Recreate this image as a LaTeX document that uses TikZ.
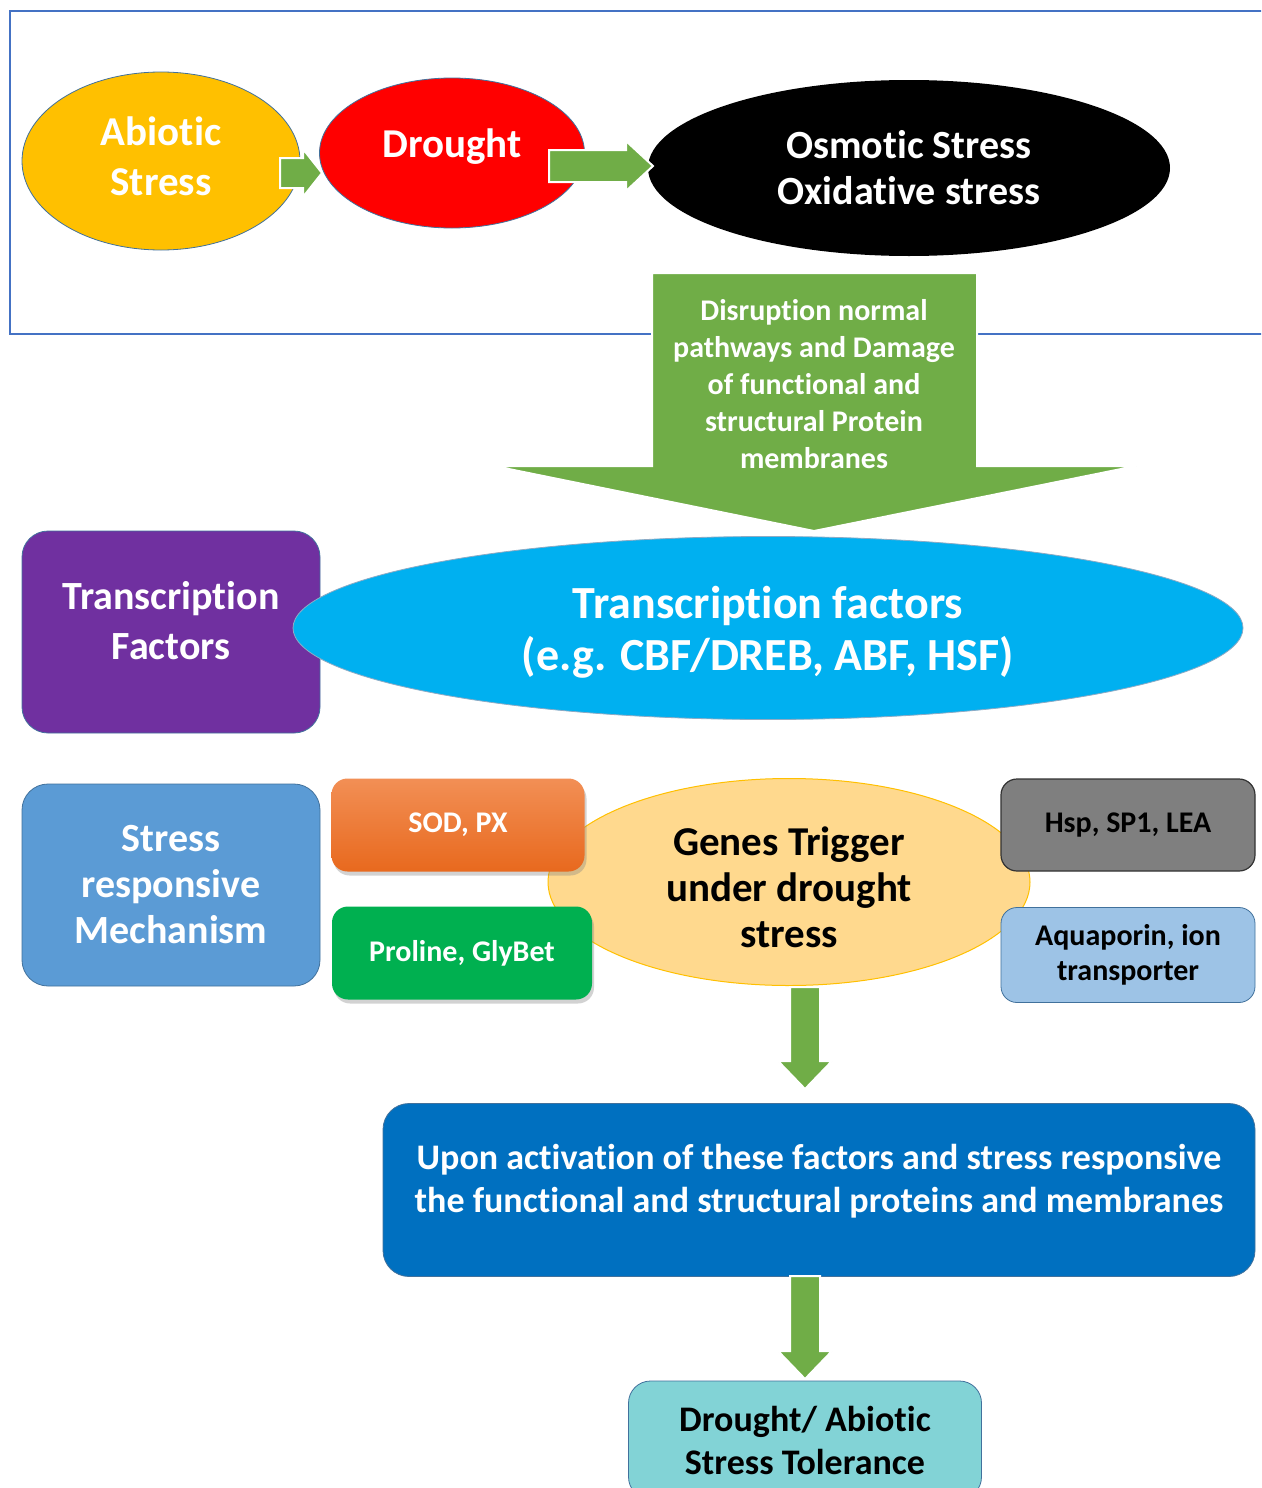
\documentclass[tikz,border=0pt]{standalone}
\usepackage{fontspec}
\setmainfont{Carlito}[Ligatures=NoCommon]
\usetikzlibrary{shapes.geometric,shadows,calc}
\definecolor{framecol}{HTML}{4472C4}
\definecolor{gold}{HTML}{FFC000}
\definecolor{arrgreen}{HTML}{70AD47}
\definecolor{purp}{HTML}{7030A0}
\definecolor{cyanb}{HTML}{00B0F0}
\definecolor{stressb}{HTML}{5B9BD5}
\definecolor{edgeb}{HTML}{41719C}
\definecolor{orangeT}{HTML}{F28F55}
\definecolor{orangeB}{HTML}{E8691E}
\definecolor{greenb}{HTML}{00B050}
\definecolor{genesf}{HTML}{FFD98E}
\definecolor{grayb}{HTML}{7F7F7F}
\definecolor{lblue}{HTML}{9DC3E6}
\definecolor{darkb}{HTML}{0070C0}
\definecolor{tealb}{HTML}{82D3D6}
\newcommand\fsz[2]{\fontsize{#1}{#2}\selectfont}
\newcommand\txtup[2]{\raisebox{0pt}[\height][\dimexpr\depth+#1*2\relax]{\begin{tabular}{@{}c@{}}#2\end{tabular}}}
\newcommand\txtdown[2]{\raisebox{0pt}[\dimexpr\height+#1*2\relax][\depth]{\begin{tabular}{@{}c@{}}#2\end{tabular}}}
\newcommand\varrow[2]{%
  \fill[blockarrow] let \p1=(#1), \p2=(#2) in
    (\x1-15pt,\y1) -- (\x1+15pt,\y1) -- (\x1+15pt,\y2+28pt) -- (\x1+27pt,\y2+28pt)
    -- (\x1,\y2) -- (\x1-27pt,\y2+28pt) -- (\x1-15pt,\y2+28pt) -- cycle;}
\newcommand\harrow[5]{% start, tip, half shaft, half head, head length
  \fill[blockarrow] let \p1=(#1), \p2=(#2) in
    (\x1,\y2+#3) -- (\x2-#5,\y2+#3) -- (\x2-#5,\y2+#4) -- (\x2,\y2)
    -- (\x2-#5,\y2-#4) -- (\x2-#5,\y2-#3) -- (\x1,\y2-#3) -- cycle;}
\begin{document}
\begin{tikzpicture}[x=1pt,y=-1pt,
  ell/.style={ellipse, inner sep=0pt, align=center},
  rbox/.style={rectangle, rounded corners=#1, inner sep=0pt, align=center},
  rbox/.default=16pt,
  blockarrow/.style={fill=arrgreen, draw=white, line width=2pt},
  shad/.style={drop shadow={opacity=0.35, shadow xshift=2pt, shadow yshift=-4pt}}]
\useasboundingbox (0,0) rectangle (1261,1488);
\fill[white] (0,0) rectangle (1261,1488);
\clip (0,0) rectangle (1261,1488);
% frame
\draw[framecol, line width=1.2pt] (1262,11) -- (10,11) -- (10,334) -- (1262,334);

% top row
\node[ell, fill=gold, draw=edgeb, line width=0.8pt, minimum width=278pt, minimum height=178pt, text=white, font=\bfseries\fsz{41}{50}] (abiotic) at (161,161) {\txtup{1pt}{Abiotic\\Stress}};
\node[ell, fill=red, draw=edgeb, line width=0.8pt, minimum width=265pt, minimum height=150pt, text=white, font=\bfseries\fsz{41}{50}] (drought) at (452,153) {\txtup{6pt}{Drought}};
\node[ell, fill=black, minimum width=522pt, minimum height=176pt, text=white, font=\bfseries\fsz{40}{46}] (osmotic) at (909,168) {Osmotic Stress\\Oxidative stress};
\coordinate (a1s) at (280,172);
\coordinate (a1t) at (322,173);
\harrow{a1s}{a1t}{15pt}{24pt}{19pt}
\coordinate (a2s) at (549,166);
\coordinate (a2t) at (653,166);
\harrow{a2s}{a2t}{16pt}{25pt}{27pt}

% big down arrow
\coordinate (bigtop) at (814,273);
\coordinate (bigtip) at (814,531);
\fill[blockarrow] ($(bigtop)+(-162,0)$) -- ($(bigtop)+(163,0)$) -- ($(bigtop)+(163,193)$) -- ($(bigtop)+(322,193)$)
  -- (bigtip) -- ($(bigtop)+(-320,193)$) -- ($(bigtop)+(-162,193)$) -- cycle;
\node[align=center, font=\bfseries\fsz{30}{37}, text=white] (disrupt) at (814,384) {Disruption normal\\pathways and Damage\\of functional and\\structural Protein\\membranes};

% transcription factors
\node[rbox=26pt, fill=purp, draw=edgeb, line width=0.8pt, minimum width=298pt, minimum height=202pt, text=white, font=\bfseries\fsz{40}{50}] (tfbox) at (171,632) {\txtup{8pt}{Transcription\\Factors}};
\node[ell, fill=cyanb, draw=edgeb!60, line width=0.8pt, minimum width=950pt, minimum height=183pt, text=white, font=\bfseries\fsz{46}{52}] (tfell) at (768,628) {\txtdown{6pt}{Transcription factors\\(e.g. CBF/DREB, ABF, HSF)}};

% stress responsive row
\node[rbox=26pt, fill=stressb, draw=edgeb, line width=0.8pt, minimum width=298pt, minimum height=202pt, text=white, font=\bfseries\fsz{40}{46}] (stress) at (171,885) {Stress\\responsive\\Mechanism};
\node[ell, inner ysep=-20pt, fill=genesf, draw=gold, line width=1pt, minimum width=482pt, minimum height=207pt, text=black, font=\bfseries\fsz{41}{46}] (genes) at (789,882) {\txtdown{10pt}{Genes Trigger\\under drought\\stress}};
\node[rbox, shad, top color=orangeT, bottom color=orangeB, minimum width=253pt, minimum height=93pt, text=white, font=\bfseries\fsz{30}{34}] (sod) at (458,825) {SOD, PX};
\node[rbox, shad, fill=greenb, minimum width=260pt, minimum height=93pt, text=white, font=\bfseries\fsz{30}{34}] (proline) at (462,953) {Proline, GlyBet};
\node[rbox, fill=grayb, draw=black!80, line width=1.2pt, minimum width=254pt, minimum height=92pt, text=black, font=\bfseries\fsz{30}{34}] (hsp) at (1128,825) {Hsp, SP1, LEA};
\node[rbox, fill=lblue, draw=edgeb, line width=0.8pt, minimum width=254pt, minimum height=95pt, text=black, font=\bfseries\fsz{30}{35}] (aqua) at (1128,955) {Aquaporin, ion\\transporter};

% arrow to big box
\coordinate (g1) at (805,987);
\coordinate (g2) at (805,1089);
\varrow{g1}{g2}

\node[rbox=26pt, fill=darkb, draw=edgeb, line width=0.8pt, minimum width=872pt, minimum height=173pt, text=white, font=\bfseries\fsz{36}{43}] (upon) at (819,1190) {\txtup{8pt}{Upon activation of these factors and stress responsive\\the functional and structural proteins and membranes}};

\coordinate (u1) at (805,1276);
\coordinate (u2) at (805,1379);
\varrow{u1}{u2}

\node[rbox=22pt, fill=tealb, draw=edgeb, line width=0.8pt, minimum width=353pt, minimum height=118pt, text=black, font=\bfseries\fsz{36}{43}] (tol) at (805,1440) {Drought/ Abiotic\\Stress Tolerance};
\end{tikzpicture}
\end{document}
